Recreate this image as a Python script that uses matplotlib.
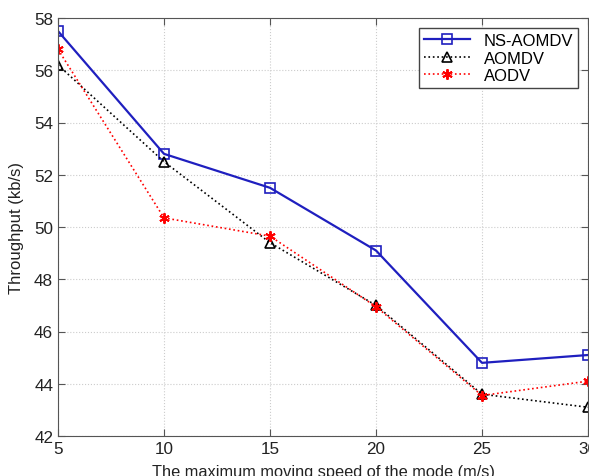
import matplotlib
matplotlib.use("Agg")
from matplotlib import pyplot as plt

plt.rcParams['font.family'] = ['Liberation Sans', 'DejaVu Sans']

speed = [5, 10, 15, 20, 25, 30]
ns_aomdv = [57.5, 52.8, 51.5, 49.1, 44.8, 45.1]
aomdv = [56.2, 52.5, 49.4, 47.0, 43.6, 43.1]
aodv = [56.8, 50.35, 49.65, 46.95, 43.55, 44.1]

fig = plt.figure(figsize=(5.89, 4.77), dpi=100)
ax = fig.add_axes([58 / 589, 40 / 477, 530 / 589, 418 / 477])

ax.plot(speed, ns_aomdv, color='#1f1fbf', lw=1.6, marker='s', ms=6.5,
        mfc='none', mec='#1f1fbf', mew=1.2, label='NS-AOMDV')
ax.plot(speed, aomdv, color='black', lw=1.2, ls=':', marker='^', ms=7,
        mfc='none', mec='black', mew=1.2, label='AOMDV')
ax.plot(speed, aodv, color='red', lw=1.2, ls=':', marker=(6, 2, 0), ms=7.5,
        mec='red', mew=1.4, label='AODV')

ax.set_xlim(5, 30)
ax.set_ylim(42, 58)
ax.set_xticks(speed)
ax.set_yticks(range(42, 59, 2))
ax.tick_params(direction='in', labelsize=12.3, top=True, right=True,
               length=5, color='#555555', labelcolor='#222222')
ax.grid(True, ls=':', color='#cccccc', lw=0.8)
for s in ax.spines.values():
    s.set_color('#555555')

ax.set_xlabel('The maximum moving speed of the mode (m/s)', fontsize=11.8,
              labelpad=6, color='#222222')
ax.set_ylabel('Throughput (kb/s)', fontsize=12, labelpad=7, color='#222222')

leg = ax.legend(loc='upper right', fontsize=12, fancybox=False,
                edgecolor='#444444', framealpha=1, borderaxespad=0.6,
                handlelength=2.8, labelspacing=0.15, borderpad=0.3)
leg.get_frame().set_linewidth(1.0)

fig.savefig('out.png', dpi=100)
